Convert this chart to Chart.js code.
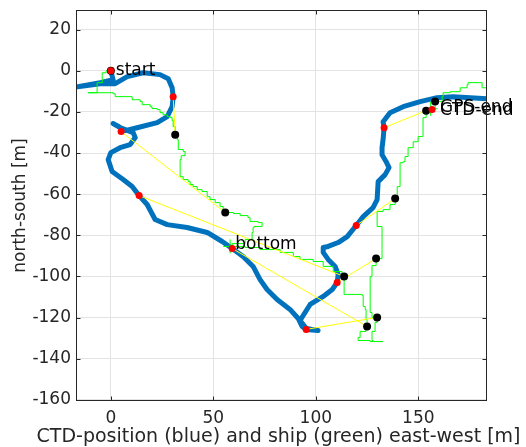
<!DOCTYPE html>
<html>
<head>
<meta charset="utf-8">
<script src="https://cdn.jsdelivr.net/npm/chart.js@4.4.0/dist/chart.umd.min.js"></script>
<style>
html, body { margin:0; padding:0; background:#fff; }
</style>
</head>
<body>
<canvas id="grafico" width="526" height="447"></canvas>
<script>
// CTD track (blue)
var ctdX = [0, 1.1, -5.2, -17.5, -5.2, 2.1, 8.0, 15.8, 24.0, 28.0, 29.9, 30.4, 29.9, 27.5, 22.6, 12.8, 7.0, 3.1, 1.1, 4.5,
	10.9, 11.9, 9.4, 4.5, 0, -1.3, 0.6, 6.0, 10.4, 13.8, 17.7, 21.6, 27.5, 37.2, 47.0, 54.3, 59.2, 64.5, 69.4, 72.8,
	76.2, 81.1, 87.4, 91.4, 93.3, 95.3, 101.1, 95.3, 92.3, 97.2, 103.6, 108.0, 110.4, 110.9, 109.4, 106.0, 103.6, 103.6, 106.0, 110.9,
	115.3, 119.7, 123.1, 127.9, 129.9, 130.4, 133.8, 135.7, 134.3, 132.3, 132.3, 132.8, 133.3, 132.8, 136.2, 142.6, 150.9, 159.1, 167.0, 175.3, 184];
var ctdY = [0, -4.4, -5.8, -8.0, -6.3, -6.3, -2.9, -1.0, -1.9, -3.9, -8.3, -12.6, -17.5, -22.3, -25.2, -27.7, -29.1, -26.7, -25.7, -27.7,
	-30.1, -32.5, -35.9, -37.4, -39.8, -43.2, -49.0, -52.9, -56.3, -60.7, -65.0, -72.3, -74.8, -76.2, -78.6, -83.0, -86.4, -90.3, -95.1, -101.5,
	-106.3, -111.2, -116.0, -120.4, -124.3, -125.7, -126.2, -125.2, -121.4, -113.6, -109.7, -106.3, -102.9, -99.0, -95.1, -91.7, -88.3, -85.9, -85.4, -83.5,
	-80.6, -75.2, -70.9, -66.5, -62.6, -53.9, -50.5, -47.1, -44.2, -40.8, -37.4, -33.5, -27.7, -24.8, -20.4, -17.5, -15.0, -13.1, -12.6, -13.1, -13.6];

// ship track (green)
var shipX = [0, -2.3, -4.2, -4.2, -6.7, -6.7, -11.1, 1.1, 2.1, 9.4,
	10.4, 14.3, 15.3, 19.2, 20.1, 22.6, 24.0, 25.5, 27.5, 29.0,
	29.9, 30.4, 31.4, 32.4, 32.9, 35.3, 36.2, 34.3, 33.8, 35.3,
	37.7, 38.7, 40.1, 42.1, 44.5, 47.0, 48.4, 50.9, 53.3, 54.8,
	55.8, 59.7, 63.1, 66.9, 67.9, 71.9, 73.8, 69.9, 69.4, 68.9,
	65.5, 59.2, 65.5, 72.8, 82.6, 89.0, 92.3, 98.7, 103.6, 108.5,
	112.8, 113.8, 113.8, 122.6, 123.1, 124.1, 124.5, 125.0, 124.5, 121.6,
	120.6, 126.5, 132.8, 127.9, 127.4, 128.9, 129.9, 127.4, 126.5, 126.5,
	127.4, 129.4, 132.3, 132.3, 129.9, 129.9, 132.8, 136.2, 138.7, 139.7,
	141.1, 141.1, 142.6, 143.5, 145.0, 145.0, 147.5, 147.5, 149.4, 149.9,
	151.9, 152.3, 152.3, 153.8, 155.8, 158.2, 161.6, 162.1, 165.5, 170.4,
	173.8, 174.3, 180.1, 181.1, 184];
var shipY = [0, -1.0, -2.9, -5.8, -8.3, -10.7, -10.7, -11.2, -12.6, -12.6,
	-14.1, -15.0, -16.5, -17.5, -18.4, -18.9, -20.4, -21.4, -22.3, -22.8,
	-24.3, -27.2, -31.1, -33.5, -38.3, -39.3, -41.3, -43.2, -51.5, -52.9,
	-53.9, -55.3, -56.3, -57.8, -58.7, -61.2, -62.6, -64.1, -66.0, -67.5,
	-68.9, -69.4, -70.4, -71.4, -73.3, -73.8, -75.7, -76.2, -78.6, -82.0,
	-84.0, -85.4, -85.9, -86.9, -88.3, -90.3, -91.7, -92.7, -95.1, -97.6,
	-99.5, -100.0, -108.7, -109.2, -114.6, -116.0, -120.9, -124.3, -126.7, -129.6,
	-131.1, -131.6, -131.6, -131.1, -126.7, -122.3, -119.9, -117.5, -112.6, -100.0,
	-94.7, -91.3, -86.9, -75.7, -75.7, -68.4, -67.5, -65.0, -62.1, -56.3,
	-55.3, -44.7, -44.2, -41.7, -40.8, -37.4, -37.4, -34.5, -34.5, -32.0,
	-32.0, -27.2, -22.8, -19.4, -18.9, -15.0, -12.6, -10.7, -10.2, -8.3,
	-6.8, -5.8, -5.8, -8.3, -8.3];

// matching fixes: CTD (red) and ship (black)
var ctdFixX = [0, 30.4, 5.0, 13.8, 59.2, 95.3, 110.4, 119.7, 133.3, 156.7];
var ctdFixY = [0, -12.6, -29.6, -60.7, -86.4, -125.7, -102.9, -75.2, -27.7, -18.9];
var shipFixX = [0, 31.4, 55.8, 113.8, 125.0, 129.9, 129.4, 138.7, 153.8, 158.2];
var shipFixY = [0, -31.1, -68.9, -100.0, -124.3, -119.9, -91.3, -62.1, -19.4, -15.0];

// ship position marks (+)
var markX = [58.2, 156.0];
var markY = [-85.4, -18.5];

var xTicks = [0, 50, 100, 150];
var yTicks = [-160, -140, -120, -100, -80, -60, -40, -20, 0, 20];

var xTitle = 'CTD-position (blue) and ship (green) east-west [m]';
var yTitle = 'north-south [m]';

// text labels: [text, which fix list, index, dx, dy]
var textos = [
	['start', 'ctd', 0, 5, 0],
	['bottom', 'ctd', 4, 3, -4],
	['CTD-end', 'ctd', 9, 8, 1],
	['GPS-end', 'ctd', 9, 8, -2]
];

function pares(xs, ys){
	var r = [];
	for (var i = 0; i < xs.length; i++) r.push({x: xs[i], y: ys[i]});
	return r;
}

var ligacoes = [];
for (var i = 0; i < ctdFixX.length; i++) {
	ligacoes.push({x: ctdFixX[i], y: ctdFixY[i]});
	ligacoes.push({x: shipFixX[i], y: shipFixY[i]});
	ligacoes.push({x: shipFixX[i], y: null});
}

var corTexto = '#262626';
var fonte = 'DejaVu Sans';

var molduraPlugin = {
	id: 'moldura',
	afterDatasetsDraw: function(chart){
		var c = chart.ctx, sx = chart.scales.x, sy = chart.scales.y;
		c.save();
		c.fillStyle = '#000';
		c.font = '17px "' + fonte + '"';
		c.textAlign = 'left';
		c.textBaseline = 'middle';
		textos.forEach(function(t){
			var px = t[1] == 'ctd' ? ctdFixX[t[2]] : shipFixX[t[2]];
			var py = t[1] == 'ctd' ? ctdFixY[t[2]] : shipFixY[t[2]];
			c.fillText(t[0], sx.getPixelForValue(px) + t[3], sy.getPixelForValue(py) + t[4]);
		});
		c.restore();
	},
	afterDraw: function(chart){
		var c = chart.ctx, a = chart.chartArea, sx = chart.scales.x, sy = chart.scales.y;
		c.save();
		c.strokeStyle = corTexto;
		c.lineWidth = 1;
		var l = Math.round(a.left) + 0.5, r = Math.round(a.right) - 0.5;
		var t = Math.round(a.top) + 0.5, b = Math.round(a.bottom) - 0.5;
		c.strokeRect(l, t, r - l, b - t);
		c.beginPath();
		xTicks.forEach(function(v){
			var p = Math.round(sx.getPixelForValue(v)) + 0.5;
			c.moveTo(p, b); c.lineTo(p, b - 4);
			c.moveTo(p, t); c.lineTo(p, t + 4);
		});
		yTicks.forEach(function(v){
			var p = Math.round(sy.getPixelForValue(v)) + 0.5;
			c.moveTo(l, p); c.lineTo(l + 4, p);
			c.moveTo(r, p); c.lineTo(r - 4, p);
		});
		c.stroke();
		// x title, drawn without the width squeeze of the scale title
		c.fillStyle = corTexto;
		c.font = '19px "' + fonte + '"';
		c.textAlign = 'center';
		c.textBaseline = 'middle';
		c.fillText(xTitle, (a.left + a.right) / 2 - 3, 437);
		c.restore();
	}
};

var ctx = document.getElementById('grafico').getContext('2d');
new Chart(ctx, {
	type: 'scatter',
	data: {
		datasets: [
			{
				label: 'ctd',
				data: pares(ctdX, ctdY),
				showLine: true,
				borderColor: '#0072BD',
				borderWidth: 5,
				borderJoinStyle: 'round',
				borderCapStyle: 'round',
				pointRadius: 0,
				order: 6
			},
			{
				label: 'ship',
				data: pares(shipX, shipY),
				showLine: true,
				stepped: 'before',
				borderColor: '#00ff00',
				borderWidth: 1,
				pointRadius: 0,
				order: 5
			},
			{
				label: 'ligacoes',
				data: ligacoes,
				showLine: true,
				spanGaps: false,
				borderColor: '#ffff00',
				borderWidth: 1,
				pointRadius: 0,
				order: 4
			},
			{
				label: 'marcas',
				data: pares(markX, markY),
				pointStyle: 'cross',
				pointRadius: 7,
				borderColor: '#00ff00',
				borderWidth: 1,
				order: 3
			},
			{
				label: 'navio',
				data: pares(shipFixX, shipFixY),
				pointRadius: 4,
				backgroundColor: '#000',
				borderColor: '#000',
				borderWidth: 0,
				order: 2
			},
			{
				label: 'ctdfix',
				data: pares(ctdFixX, ctdFixY),
				pointRadius: 3.5,
				backgroundColor: '#ff0000',
				borderColor: '#ff0000',
				borderWidth: 0,
				order: 1
			}
		]
	},
	options: {
		responsive: false,
		animation: false,
		layout: { padding: { top: 10, right: 39, left: 0, bottom: 0 } },
		plugins: { legend: { display: false }, tooltip: { enabled: false } },
		scales: {
			x: {
				type: 'linear',
				min: -17, max: 183.5,
				afterBuildTicks: function(s){ s.ticks = xTicks.map(function(v){ return {value: v}; }); },
				afterFit: function(s){ s.height = 46; s.paddingLeft = 0; s.paddingRight = 0; },
				grid: { color: '#e3e3e3', drawTicks: false },
				border: { display: false },
				ticks: { padding: 7, color: corTexto, font: { family: fonte, size: 17 } },
				title: { display: false }
			},
			y: {
				type: 'linear',
				min: -160.5, max: 29.5,
				afterBuildTicks: function(s){ s.ticks = yTicks.map(function(v){ return {value: v}; }); },
				afterFit: function(s){ s.width = 76; s.paddingTop = 0; s.paddingBottom = 0; },
				grid: { color: '#e3e3e3', drawTicks: false },
				border: { display: false },
				ticks: { padding: 5, color: corTexto, font: { family: fonte, size: 17 } },
				title: { display: true, text: yTitle, color: corTexto, padding: { top: 10, bottom: 0 }, font: { family: fonte, size: 17, lineHeight: 1.2 } }
			}
		}
	},
	plugins: [molduraPlugin]
});
</script>
</body>
</html>
